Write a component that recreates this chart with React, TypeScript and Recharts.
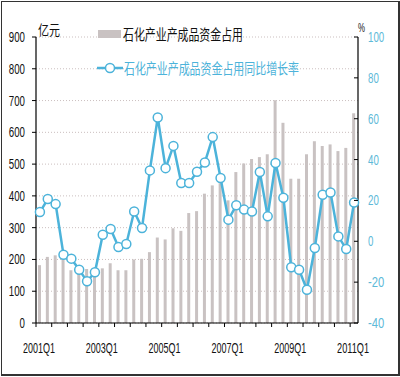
import React from 'react';
import { ComposedChart, Bar, Line, XAxis, YAxis, CartesianGrid, Legend } from 'recharts';

const quarters = [
  '2001Q1', '2001Q2', '2001Q3', '2001Q4',
  '2002Q1', '2002Q2', '2002Q3', '2002Q4',
  '2003Q1', '2003Q2', '2003Q3', '2003Q4',
  '2004Q1', '2004Q2', '2004Q3', '2004Q4',
  '2005Q1', '2005Q2', '2005Q3', '2005Q4',
  '2006Q1', '2006Q2', '2006Q3', '2006Q4',
  '2007Q1', '2007Q2', '2007Q3', '2007Q4',
  '2008Q1', '2008Q2', '2008Q3', '2008Q4',
  '2009Q1', '2009Q2', '2009Q3', '2009Q4',
  '2010Q1', '2010Q2', '2010Q3', '2010Q4',
  '2011Q1',
];

// 石化产业产成品资金占用 (亿元)
const capitalOccupied = [
  182, 208, 213, 205,
  166, 160, 170, 160,
  172, 188, 166, 166,
  200, 202, 223, 269,
  263, 298, 290, 346,
  352, 407, 433, 440,
  386, 475, 502, 516,
  522, 531, 701, 630,
  454, 454, 531, 572,
  557, 562, 541, 551,
  660,
];

// 同比增长率 (%)
const yoyGrowth = [
  14.3, 20.7, 18.2, -6.6,
  -8.5, -13.9, -19.6, -15.2,
  3.2, 6.0, -2.8, -1.3,
  14.6, 6.5, 34.7, 60.6,
  35.8, 46.7, 28.5, 28.5,
  34.0, 38.6, 51.0, 31.0,
  10.6, 17.6, 15.5, 14.6,
  33.9, 12.2, 38.3, 21.3,
  -12.7, -13.9, -23.7, -3.3,
  22.8, 23.9, 2.4, -3.8,
  19.0,
];

const leftTicks = [0, 100, 200, 300, 400, 500, 600, 700, 800, 900];
const rightTicks = [-40, -20, 0, 20, 40, 60, 80, 100];
const labeledQuarters = ['2001Q1', '2003Q1', '2005Q1', '2007Q1', '2009Q1', '2011Q1'];

const barName = '石化产业产成品资金占用';
const lineName = '石化产业产成品资金占用同比增长率';
const leftUnit = '亿元';
const rightUnit = '%';

const data = quarters.map((q, i) => ({
  quarter: q,
  amount: capitalOccupied[i],
  growth: yoyGrowth[i],
}));

const W = 400;
const H = 377;
const LEFT_W = 36;
const RIGHT_W = 42;
const TOP = 37;
const X_H = 54;
const HALF_BAND = (W - LEFT_W - RIGHT_W) / quarters.length / 2;

const NUM_FONT = "'Liberation Sans', Arial, sans-serif";
const CJK_FONT = "'Noto Sans CJK SC', 'Noto Sans', sans-serif";
const BAR_COLOR = '#c9c2c2';
const LINE_COLOR = '#4cb3da';
const RIGHT_COLOR = '#5db9d8';
const CHAR_W = 5.4;

const LeftTick = (props: any) => {
  const { x, y, payload } = props;
  const s = String(payload.value);
  return (
    <g>
      <line x1={x - 4} x2={x} y1={y} y2={y} stroke="#000" strokeWidth={1} />
      <text x={x - 11} y={y + 5} textAnchor="end" fontFamily={NUM_FONT} fontSize={14} fill="#111"
        textLength={s.length * CHAR_W} lengthAdjust="spacingAndGlyphs">{s}</text>
    </g>
  );
};

const RightTick = (props: any) => {
  const { x, y, payload } = props;
  const s = String(payload.value);
  return (
    <g>
      <line x1={x - 4} x2={x} y1={y} y2={y} stroke="#000" strokeWidth={1} />
      <text x={x + 10} y={y + 5} textAnchor="start" fontFamily={NUM_FONT} fontSize={14} fill={RIGHT_COLOR}
        textLength={s.length * CHAR_W} lengthAdjust="spacingAndGlyphs">{s}</text>
    </g>
  );
};

const BottomTick = (props: any) => {
  const { x, y, payload } = props;
  const s = String(payload.value);
  const show = labeledQuarters.includes(s);
  return (
    <g>
      <line x1={x - HALF_BAND} x2={x - HALF_BAND} y1={y} y2={y + 4} stroke="#000" strokeWidth={1} />
      {show && (
        <text x={x - 1} y={y + 30} textAnchor="middle" fontFamily={NUM_FONT} fontSize={14} fill="#111"
          textLength={32} lengthAdjust="spacingAndGlyphs">{s}</text>
      )}
    </g>
  );
};

const renderLegend = () => (
  <svg width={W} height={80} style={{ display: 'block' }}>
    <text x={38} y={35} fontFamily={CJK_FONT} fontSize={14} fill="#111" textLength={22} lengthAdjust="spacingAndGlyphs">{leftUnit}</text>
    <text x={358} y={32} fontFamily={NUM_FONT} fontSize={12} fill="#111" textLength={7} lengthAdjust="spacingAndGlyphs">{rightUnit}</text>
    <rect x={98} y={30} width={23} height={8} fill={BAR_COLOR} />
    <text x={123} y={40} fontFamily={CJK_FONT} fontSize={15} fill="#111" textLength={120} lengthAdjust="spacingAndGlyphs">{barName}</text>
    <line x1={97} x2={123} y1={68} y2={68} stroke={LINE_COLOR} strokeWidth={2.5} />
    <circle cx={110} cy={68} r={4.5} fill="#fff" stroke={LINE_COLOR} strokeWidth={1.5} />
    <text x={124} y={74} fontFamily={CJK_FONT} fontSize={15} fill={LINE_COLOR} textLength={175} lengthAdjust="spacingAndGlyphs">{lineName}</text>
  </svg>
);

export default function App() {
  return (
    <div style={{ position: 'absolute', left: 0, top: 0, width: W, height: H, background: '#fff' }}>
      <ComposedChart width={W} height={H} data={data} margin={{ top: TOP, right: 0, bottom: 0, left: 0 }}>
        <CartesianGrid yAxisId="left" vertical={false} stroke="#cbbfbf" strokeDasharray="1 2" />
        <XAxis dataKey="quarter" height={X_H} interval={1} tickSize={0} tickMargin={0} tick={<BottomTick />}
          axisLine={{ stroke: '#000', strokeWidth: 1.2 }} tickLine={false} />
        <YAxis yAxisId="left" orientation="left" width={LEFT_W} domain={[0, 900]} ticks={leftTicks}
          tickSize={0} tickMargin={0} tick={<LeftTick />} tickLine={false}
          axisLine={{ stroke: '#000', strokeWidth: 1.2 }} interval={0} />
        <YAxis yAxisId="right" orientation="right" width={RIGHT_W} domain={[-40, 100]} ticks={rightTicks}
          tickSize={0} tickMargin={0} tick={<RightTick />} tickLine={false}
          axisLine={{ stroke: '#000', strokeWidth: 1.2 }} interval={0} />
        <Legend layout="horizontal" verticalAlign="middle" align="center" content={renderLegend}
          wrapperStyle={{ position: 'absolute', top: 0, left: 0, width: W, height: 80, pointerEvents: 'none' }} />
        <Bar yAxisId="left" dataKey="amount" name={barName} fill={BAR_COLOR} barSize={3} isAnimationActive={false} />
        <Line yAxisId="right" dataKey="growth" name={lineName} stroke={LINE_COLOR} strokeWidth={2.5}
          dot={{ r: 4.5, fill: '#fff', stroke: LINE_COLOR, strokeWidth: 1.5 }} activeDot={false}
          isAnimationActive={false} />
      </ComposedChart>
      <div style={{ position: 'absolute', left: 1, top: 1, width: 396, height: 372, border: '1px solid #333', borderRightWidth: 2, borderBottomWidth: 2, pointerEvents: 'none' }} />
    </div>
  );
}
